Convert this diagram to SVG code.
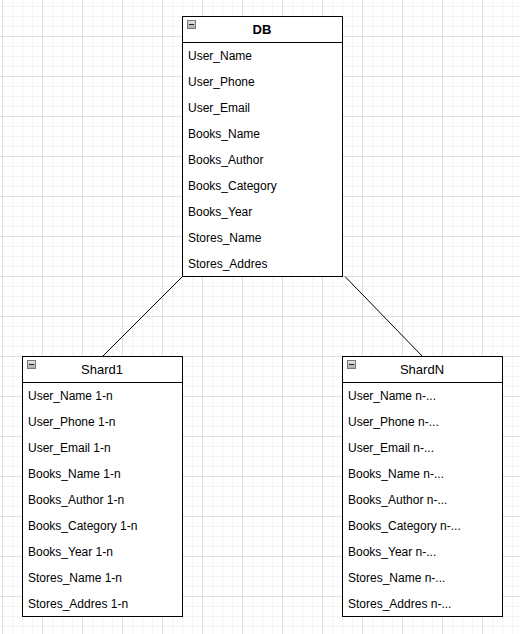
<svg xmlns="http://www.w3.org/2000/svg" width="520" height="634" viewBox="0 0 520 634">
<defs>
<pattern id="minor" x="2" y="-4" width="10" height="10" patternUnits="userSpaceOnUse">
<path d="M0 0.5H10M0.5 0V10" fill="none" stroke="#f4f4f4" stroke-width="1"/>
</pattern>
<pattern id="major" x="2" y="-4" width="40" height="40" patternUnits="userSpaceOnUse">
<path d="M0 0.5H40M0.5 0V40" fill="none" stroke="#e0e0e0" stroke-width="1"/>
</pattern>
<linearGradient id="ig" x1="0" y1="0" x2="0" y2="1">
<stop offset="0" stop-color="#e8e8e8"/>
<stop offset="1" stop-color="#a8a8a8"/>
</linearGradient>
<g id="icon">
<rect x="0.5" y="0.5" width="8" height="8" fill="url(#ig)" stroke="#7a7a7a" stroke-width="1"/>
<path d="M2 4.5H7" stroke="#222" stroke-width="1"/>
</g>
</defs>
<style>
.box{fill:#fff;stroke:#000;stroke-width:1}
.t{font-family:"Liberation Sans",Arial,sans-serif;font-size:12px;fill:#000}
.h{font-family:"Liberation Sans",Arial,sans-serif;font-size:13px;fill:#000;text-anchor:middle}
.b{font-weight:bold}
.conn{stroke:#000;stroke-width:1;fill:none}
</style>
<rect width="520" height="634" fill="#fff"/>
<rect width="520" height="634" fill="url(#minor)"/>
<rect width="520" height="634" fill="url(#major)"/>

<g id="connectors">
<path class="conn" d="M182.5 276.5L102.5 356.5"/>
<path class="conn" d="M345 276.5L422.5 356.5"/>
</g>

<g id="DB">
<rect class="box" x="182.5" y="16.5" width="160" height="260"/>
<path class="conn" d="M182.5 42.5H342.5"/>
<use href="#icon" x="187" y="20"/>
<text class="h b" x="262" y="34">DB</text>
<text class="t" x="188" y="60">User_Name</text>
<text class="t" x="188" y="86">User_Phone</text>
<text class="t" x="188" y="112">User_Email</text>
<text class="t" x="188" y="138">Books_Name</text>
<text class="t" x="188" y="164">Books_Author</text>
<text class="t" x="188" y="190">Books_Category</text>
<text class="t" x="188" y="216">Books_Year</text>
<text class="t" x="188" y="242">Stores_Name</text>
<text class="t" x="188" y="268">Stores_Addres</text>
</g>

<g id="Shard1">
<rect class="box" x="22.5" y="356.5" width="160" height="260"/>
<path class="conn" d="M22.5 382.5H182.5"/>
<use href="#icon" x="27" y="360"/>
<text class="h" x="102" y="374">Shard1</text>
<text class="t" x="28" y="400">User_Name 1-n</text>
<text class="t" x="28" y="426">User_Phone 1-n</text>
<text class="t" x="28" y="452">User_Email 1-n</text>
<text class="t" x="28" y="478">Books_Name 1-n</text>
<text class="t" x="28" y="504">Books_Author 1-n</text>
<text class="t" x="28" y="530">Books_Category 1-n</text>
<text class="t" x="28" y="556">Books_Year 1-n</text>
<text class="t" x="28" y="582">Stores_Name 1-n</text>
<text class="t" x="28" y="608">Stores_Addres 1-n</text>
</g>

<g id="ShardN">
<rect class="box" x="342.5" y="356.5" width="160" height="260"/>
<path class="conn" d="M342.5 382.5H502.5"/>
<use href="#icon" x="347" y="360"/>
<text class="h" x="422" y="374">ShardN</text>
<text class="t" x="348" y="400">User_Name n-...</text>
<text class="t" x="348" y="426">User_Phone n-...</text>
<text class="t" x="348" y="452">User_Email n-...</text>
<text class="t" x="348" y="478">Books_Name n-...</text>
<text class="t" x="348" y="504">Books_Author n-...</text>
<text class="t" x="348" y="530">Books_Category n-...</text>
<text class="t" x="348" y="556">Books_Year n-...</text>
<text class="t" x="348" y="582">Stores_Name n-...</text>
<text class="t" x="348" y="608">Stores_Addres n-...</text>
</g>
</svg>
